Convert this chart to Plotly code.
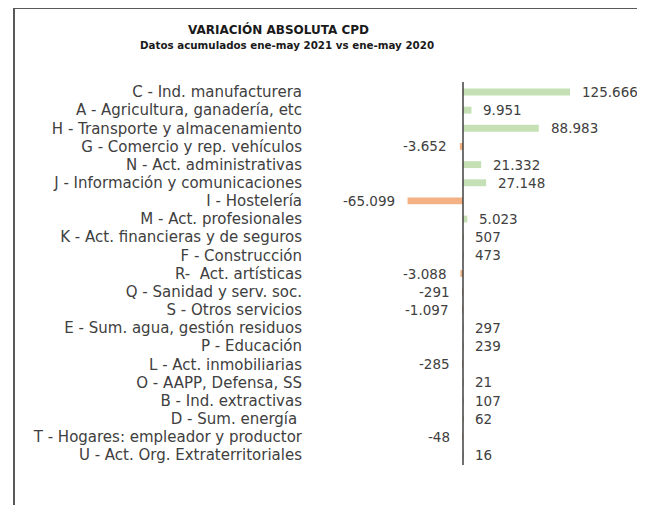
import plotly.graph_objects as go

# --- datos ---
sectores = [
    "C - Ind. manufacturera",
    "A - Agricultura, ganadería, etc",
    "H - Transporte y almacenamiento",
    "G - Comercio y rep. vehículos",
    "N - Act. administrativas",
    "J - Información y comunicaciones",
    "I - Hostelería",
    "M - Act. profesionales",
    "K - Act. financieras y de seguros",
    "F - Construcción",
    "R-  Act. artísticas",
    "Q - Sanidad y serv. soc.",
    "S - Otros servicios",
    "E - Sum. agua, gestión residuos",
    "P - Educación",
    "L - Act. inmobiliarias",
    "O - AAPP, Defensa, SS",
    "B - Ind. extractivas",
    "D - Sum. energía ",
    "T - Hogares: empleador y productor",
    "U - Act. Org. Extraterritoriales",
]
variacion = [125666, 9951, 88983, -3652, 21332, 27148, -65099, 5023, 507, 473,
             -3088, -291, -1097, 297, 239, -285, 21, 107, 62, -48, 16]

titulo = "VARIACIÓN ABSOLUTA CPD"
subtitulo = "Datos acumulados ene-may 2021 vs ene-may 2020"

# --- estilo ---
OFF = 8  # margen del <body> en la página
W, H = 645 - OFF, 505 - OFF
M_L, M_R, M_T, M_B = 297, 0, 74, 40
VERDE = "#C5E0B4"
NARANJA = "#F4B183"
TEXTO = "#404040"
FUENTE = "DejaVu Sans"
PX_POR_UNIDAD = 107 / 125666  # escala horizontal estimada

ancho_plot = W - M_L - M_R
alto_plot = H - M_T - M_B
x_cero = 455 - M_L
rango_x = [-x_cero / PX_POR_UNIDAD, (ancho_plot - x_cero) / PX_POR_UNIDAD]


def px_x(px):
    """posición horizontal de la página -> coordenada paper"""
    return (px - OFF - M_L) / ancho_plot


def px_y(py):
    """posición vertical de la página -> coordenada paper"""
    return 1 - (py - OFF - M_T) / alto_plot


def fmt(v):
    return f"{v:,}".replace(",", ".")


colores = [VERDE if v >= 0 else NARANJA for v in variacion]

fig = go.Figure(go.Bar(
    x=variacion,
    y=sectores,
    orientation="h",
    marker=dict(color=colores, line=dict(width=0)),
    hoverinfo="x+y",
))

for s, v in zip(sectores, variacion):
    fig.add_annotation(
        x=v, y=s, text=fmt(v), showarrow=False,
        xanchor="left" if v >= 0 else "right",
        xshift=10 if v >= 0 else -11,
        font=dict(family=FUENTE, size=13.5, color=TEXTO),
    )

# títulos
fig.add_annotation(
    x=px_x(278), y=px_y(29), xref="paper", yref="paper", showarrow=False,
    text=f"<b>{titulo}</b>", xanchor="center", yanchor="middle",
    font=dict(family=FUENTE, size=12, color="#1a1a1a"),
)
fig.add_annotation(
    x=px_x(287), y=px_y(45), xref="paper", yref="paper", showarrow=False,
    text=f"<b>{subtitulo}</b>", xanchor="center", yanchor="middle",
    font=dict(family=FUENTE, size=10.3, color="#1a1a1a"),
)

# eje vertical en cero, por encima de las barras
fig.add_shape(type="line", xref="x", yref="paper", x0=0, x1=0, y0=0, y1=1,
              layer="above", line=dict(color="#404040", width=1.5))

# marco del gráfico (borde superior e izquierdo)
fx = px_x(14)
fy = px_y(8)
fig.add_shape(type="line", xref="paper", yref="paper", x0=fx, x1=1.05,
              y0=fy, y1=fy, line=dict(color="#595959", width=2))
fig.add_shape(type="line", xref="paper", yref="paper", x0=fx, x1=fx,
              y0=fy, y1=-0.2, line=dict(color="#595959", width=2))

fig.update_layout(
    width=W, height=H,
    margin=dict(l=M_L, r=M_R, t=M_T, b=M_B),
    paper_bgcolor="white", plot_bgcolor="white",
    bargap=0.62,
    showlegend=False,
    xaxis=dict(
        range=rango_x, showgrid=False, showticklabels=False,
        ticks="", zeroline=False, showline=False,
    ),
    yaxis=dict(
        autorange="reversed", showgrid=False, ticks="", showline=False,
        tickfont=dict(family=FUENTE, size=15, color=TEXTO),
        ticklabelstandoff=2,
    ),
)

fig.write_html("out.html")
